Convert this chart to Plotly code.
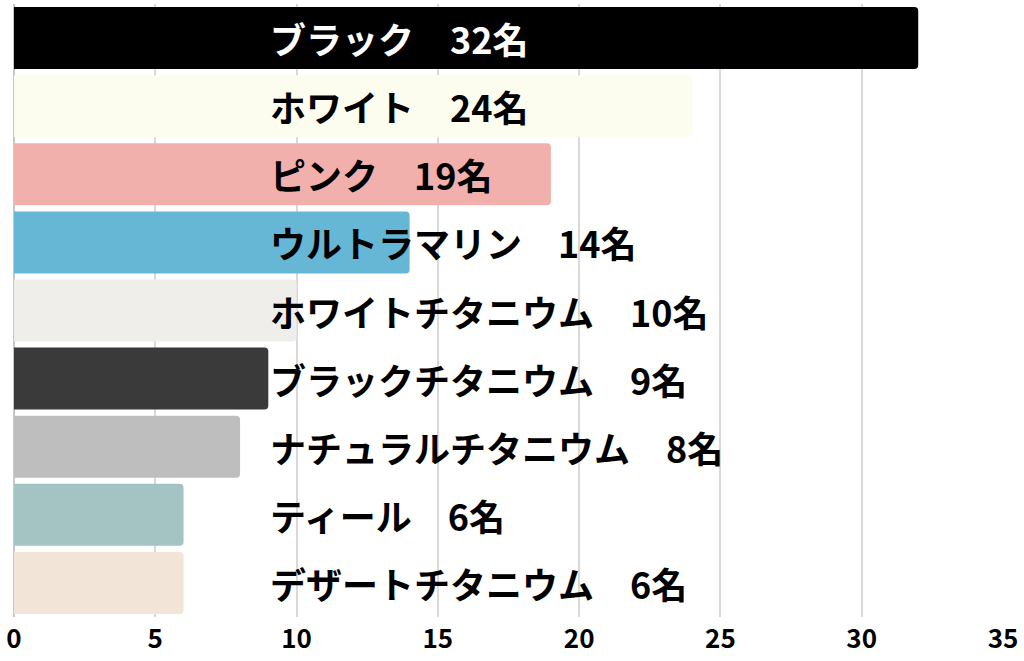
import plotly.graph_objects as go

colors_name = ['ブラック', 'ホワイト', 'ピンク', 'ウルトラマリン', 'ホワイトチタニウム',
               'ブラックチタニウム', 'ナチュラルチタニウム', 'ティール', 'デザートチタニウム']
counts = [32, 24, 19, 14, 10, 9, 8, 6, 6]
bar_colors = ['#000000', '#FDFDEF', '#F2B0AD', '#66B6D5', '#EFEEEB',
              '#3A3A3A', '#BEBEBE', '#A3C4C3', '#F2E5D7']
text_colors = ['#FFFFFF'] + ['#000000'] * 8
x_ticks = [0, 5, 10, 15, 20, 25, 30, 35]

fig = go.Figure(go.Bar(
    x=counts,
    y=colors_name,
    orientation='h',
    marker=dict(color=bar_colors, cornerradius=4, line=dict(width=0)),
    hoverinfo='skip',
))

for name, n, tc in zip(colors_name, counts, text_colors):
    fig.add_annotation(
        x=9.0, y=name, xref='x', yref='y',
        text=f'{name}　{n}名',
        showarrow=False, xanchor='left', yanchor='middle',
        font=dict(family='Noto Sans CJK JP', size=36, color=tc, weight='bold'),
    )

fig.update_layout(
    width=1024, height=661,
    margin=dict(l=14, r=21, t=4, b=44),
    plot_bgcolor='white',
    paper_bgcolor='white',
    bargap=0.09,
    showlegend=False,
    xaxis=dict(
        range=[0, 35], tickvals=x_ticks, showgrid=True, gridcolor='#D9D9D9',
        gridwidth=1.5, zeroline=True, zerolinecolor='#C8C8C8', zerolinewidth=1.5,
        tickfont=dict(family='Noto Sans CJK JP', size=26, color='#000000', weight='bold'),
        ticks='', ticklabelstandoff=4, automargin=False,
    ),
    yaxis=dict(
        categoryorder='array', categoryarray=colors_name[::-1],
        showticklabels=False, showgrid=False, automargin=False,
    ),
)

# ページ余白をなくす
fig.write_html('out.html', config={'displayModeBar': False},
               post_script="document.body.style.margin='0';")
